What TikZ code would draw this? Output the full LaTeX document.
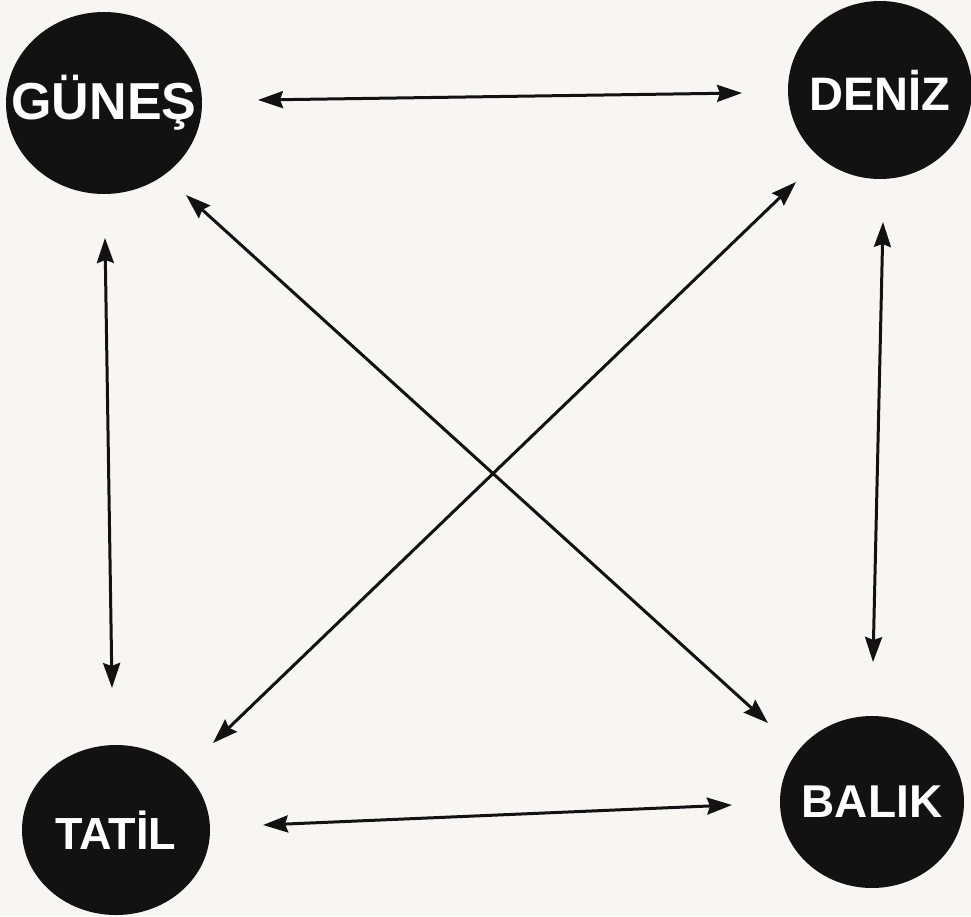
\documentclass[tikz,border=0pt]{standalone}
\usepackage{fontspec}
\setmainfont{Liberation Sans}
\usetikzlibrary{shapes.geometric,arrows.meta}
\definecolor{paper}{RGB}{247,246,243}
\definecolor{ink}{RGB}{18,18,18}
\begin{document}
\begin{tikzpicture}[x=1pt,y=-1pt,
  blob/.style={ellipse,fill=ink,inner sep=0pt,text=white},
  tip/.style={Stealth[length=25pt,width=17pt,inset=3pt]},
  arr/.style={line width=3pt,draw=ink,{Stealth[length=25pt,width=17pt,inset=3pt]}-{Stealth[length=25pt,width=17pt,inset=3pt]}}]
\fill[paper] (0,0) rectangle (971,916);
\useasboundingbox (0,0) rectangle (971,916);
\node[blob,minimum width=196pt,minimum height=182pt,font=\bfseries\fontsize{52}{52}\selectfont] (g) at (104,103) {\makebox[0pt]{GÜNEŞ}};
\node[blob,minimum width=184pt,minimum height=178pt,font=\bfseries\fontsize{47}{47}\selectfont] (d) at (880,90) {\makebox[0pt]{DENİZ}};
\node[blob,minimum width=188pt,minimum height=170pt,font=\bfseries\fontsize{45}{45}\selectfont] (t) at (116,830) {\makebox[0pt]{TATİL}};
\node[blob,minimum width=184pt,minimum height=172pt,font=\bfseries\fontsize{46}{46}\selectfont] (b) at (872,802) {\makebox[0pt]{BALIK}};
\draw[arr] ([shift={(154,-3)}]g.center) -- ([shift={(-138,3)}]d.center);
\draw[arr] ([shift={(1,135)}]g.center) -- ([shift={(-4,-142)}]t.center);
\draw[arr] ([shift={(82,92)}]g.center) -- ([shift={(-104,-79)}]b.center);
\draw[arr] ([shift={(-84,92)}]d.center) -- ([shift={(97,-87)}]t.center);
\draw[arr] ([shift={(3,132)}]d.center) -- ([shift={(1,-140)}]b.center);
\draw[arr] ([shift={(147,-5)}]t.center) -- ([shift={(-140,3)}]b.center);
\end{tikzpicture}
\end{document}
